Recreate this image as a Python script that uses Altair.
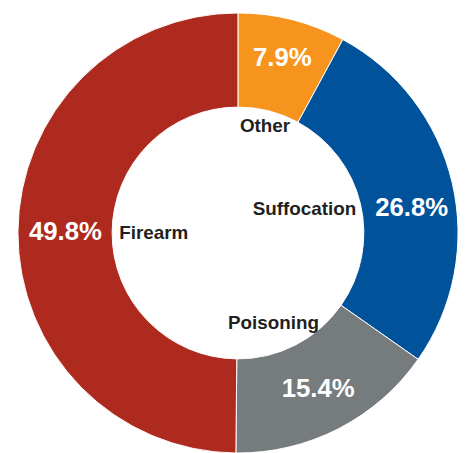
import altair as alt
import pandas as pd
import math

categories = ["Other", "Suffocation", "Poisoning", "Firearm"]
shares = [7.9, 26.8, 15.4, 49.8]
pct_labels = ["7.9%", "26.8%", "15.4%", "49.8%"]
colors = ["#F7941D", "#00529B", "#767B7D", "#AE2A1E"]

df = pd.DataFrame({
    "category": categories,
    "share": shares,
    "pct": pct_labels,
    "order": list(range(len(categories))),
})

CX, CY = 232, 225
FONT = "Liberation Sans"

# label styling: radius and small nudges (pixels) per label
PCT_STYLE = {"Other": (182, 0, 0), "Suffocation": (177, 3, 15), "Poisoning": (177, 0, 0), "Firearm": (174, 0, 0)}
CAT_STYLE = {"Other": (111, 0, 0), "Suffocation": (72, -3, -8), "Poisoning": (98, -9, 4), "Firearm": (85, 0, 0)}

theta_scale = alt.Scale(domain=[0, 1], range=[0, 2 * math.pi])
cx = alt.value(CX)
cy = alt.value(CY)

base = alt.Chart(df).transform_window(
    cum="sum(share)", sort=[alt.SortField("order")], frame=[None, 0]
).transform_joinaggregate(
    total="sum(share)"
).transform_calculate(
    start="(datum.cum - datum.share) / datum.total",
    end="datum.cum / datum.total",
    mid="(datum.cum - datum.share / 2) / datum.total",
)

arcs = base.mark_arc(
    innerRadius=127, outerRadius=222, stroke="white", strokeWidth=1
).encode(
    theta=alt.Theta("start:Q", scale=theta_scale),
    theta2="end:Q",
    x=cx, y=cy,
    color=alt.Color("category:N", scale=alt.Scale(domain=categories, range=colors), legend=None),
)

layers = [arcs]
for name in categories:
    r, dx, dy = PCT_STYLE[name]
    layers.append(
        base.transform_filter(alt.datum.category == name).mark_text(
            radius=r, dx=dx, dy=dy, font=FONT, fontSize=26, fontWeight="bold", color="white"
        ).encode(theta=alt.Theta("mid:Q", scale=theta_scale), x=cx, y=cy, text="pct:N")
    )
    r, dx, dy = CAT_STYLE[name]
    layers.append(
        base.transform_filter(alt.datum.category == name).mark_text(
            radius=r, dx=dx, dy=dy, font=FONT, fontSize=19, fontWeight="bold", color="#231F20"
        ).encode(theta=alt.Theta("mid:Q", scale=theta_scale), x=cx, y=cy, text="category:N")
    )

chart = alt.layer(*layers).properties(
    width=452, height=445, padding=0
).configure_view(stroke=None)

chart.save("out.html", embed_options={"renderer": "svg", "actions": False})
